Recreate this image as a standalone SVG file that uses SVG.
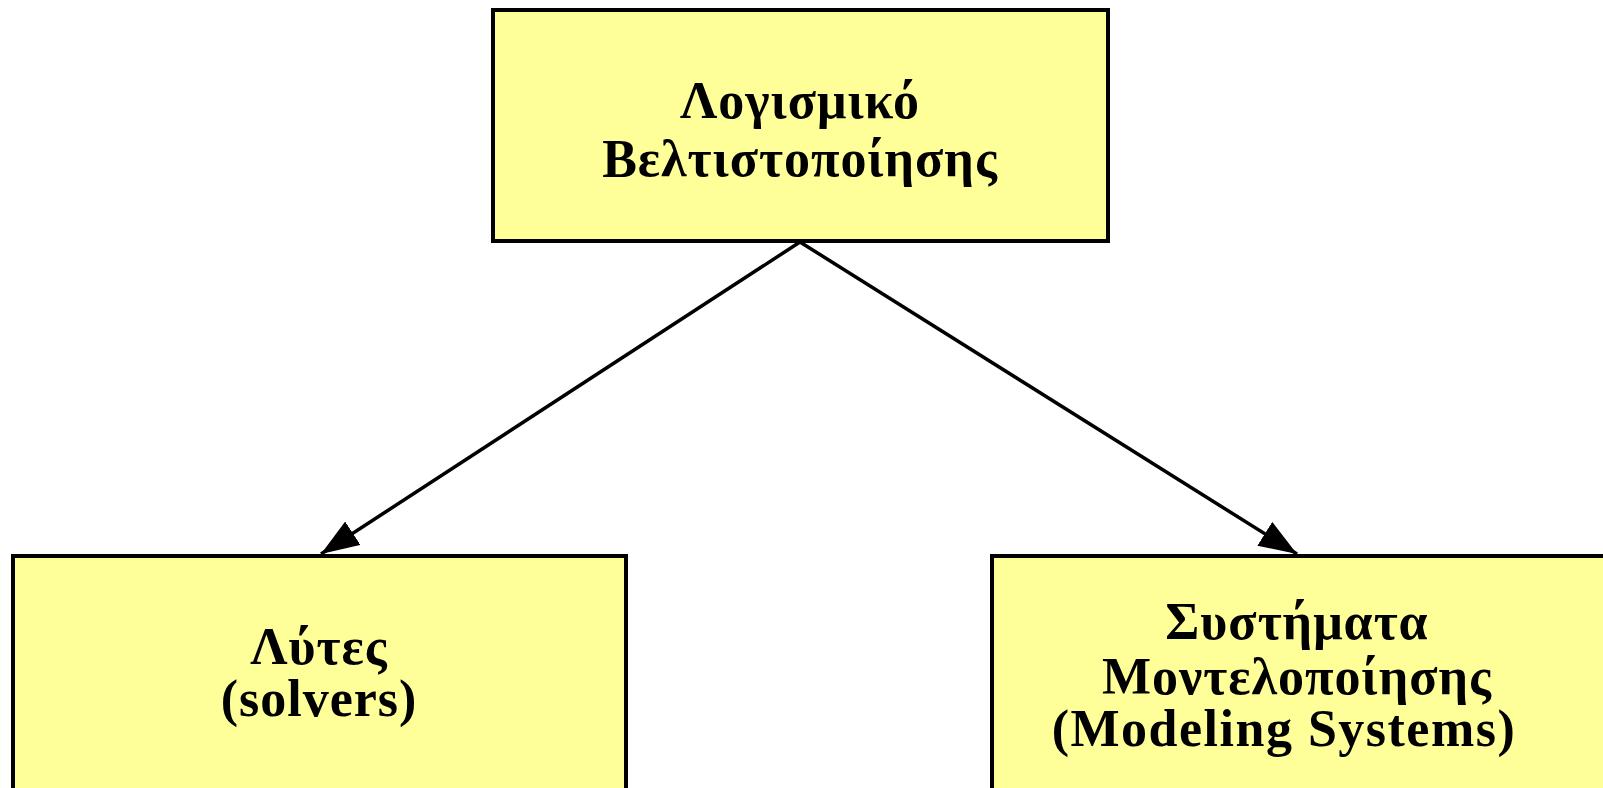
<svg xmlns="http://www.w3.org/2000/svg" width="1603" height="788" viewBox="0 0 1603 788">
  <style>
    .box { fill: #ffff99; stroke: #000; stroke-width: 4; }
    .lbl { font-family: "Liberation Serif", "Times New Roman", serif; font-weight: bold; font-size: 52px; fill: #000; text-anchor: middle; letter-spacing: 1px; }
    .wide { letter-spacing: 1.5px; }
    .edge { stroke: #000; stroke-width: 3.5; fill: none; marker-end: url(#arrow); }
  </style>
  <defs>
    <marker id="arrow" markerUnits="userSpaceOnUse" markerWidth="42" markerHeight="32" refX="38" refY="14" orient="auto">
      <path d="M0,0 L38,14 L0,28 Z" fill="#000"/>
    </marker>
  </defs>
  <rect width="1603" height="788" fill="#fff"/>

  <g id="connectors">
    <line class="edge" x1="800" y1="242" x2="321" y2="554"/>
    <line class="edge" x1="800" y1="242" x2="1297" y2="554"/>
  </g>

  <g id="node-software">
    <rect class="box" x="493" y="10" width="615" height="231"/>
    <text class="lbl" x="800" y="118">Λογισμικό</text>
    <text class="lbl" x="800" y="176">Βελτιστοποίησης</text>
  </g>

  <g id="node-solvers">
    <rect class="box" x="13" y="556" width="613" height="240"/>
    <text class="lbl" x="319" y="664">Λύτες</text>
    <text class="lbl" x="319" y="716">(solvers)</text>
  </g>

  <g id="node-modeling">
    <rect class="box" x="992" y="556" width="620" height="240"/>
    <text class="lbl" x="1297" y="639">Συστήματα</text>
    <text class="lbl" x="1297" y="694">Μοντελοποίησης</text>
    <text class="lbl wide" x="1284" y="746">(Modeling Systems)</text>
  </g>
</svg>
